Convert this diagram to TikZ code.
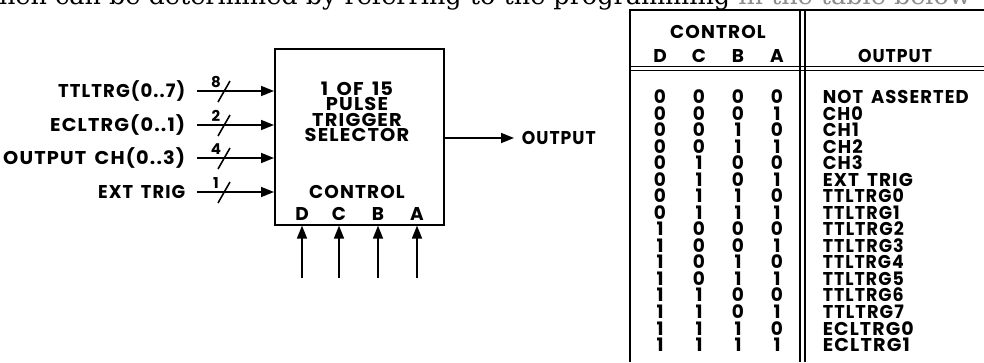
\documentclass[tikz,border=0pt]{standalone}
\usepackage{fontspec}
\usepackage{graphicx}
\setmainfont{Poppins}[LetterSpace=6]
\newfontfamily\serifx{DejaVu Serif}
\usetikzlibrary{arrows.meta}
\newcommand{\fw}[2]{\resizebox{#1pt}{\height}{#2}}
\begin{document}
\begin{tikzpicture}[x=1pt,y=-1pt,line width=1.6pt,
  txt/.style={font=\fontsize{18.5}{18.5}\selectfont\bfseries,inner sep=0pt,anchor=base},
  num/.style={font=\fontsize{15}{15}\selectfont\bfseries,inner sep=0pt},
  arr/.style={-{Triangle[length=13pt,width=10pt]}},
  rule/.style={line width=1.4pt}]
\useasboundingbox (0,0) rectangle (984,362);
% clipped running text at the top
\node[font=\serifx\fontsize{25.5}{25.5}\selectfont,anchor=base west,inner sep=0pt] (run) at (-12,4)
  {then can be determined by referring to the programming \textcolor{black!45}{in the table below}};
% block
\node[draw,minimum width=169pt,minimum height=176pt,anchor=north west,inner sep=0pt] (box) at (274,48) {};
\node[txt] (t1) at (357,95.5) {\scalebox{1.05}[1]{1\hspace{8pt}OF\hspace{8pt}15}};
\node[txt] (t2) at (357,110.5) {\scalebox{1.05}[1]{PULSE}};
\node[txt] (t3) at (357,126) {\scalebox{1.05}[1]{TRIGGER}};
\node[txt] (t4) at (357,141.5) {\scalebox{1.05}[1]{SELECTOR}};
\node[txt] (t5) at (357,198.5) {CONTROL};
% inputs
\foreach \n/\lab/\lw/\w/\yy in {1/TTLTRG(0..7)/127/8/91,2/ECLTRG(0..1)/135/2/125,3/OUTPUT\hspace{8pt}CH(0..3)/182/4/158,4/EXT\hspace{8pt}TRIG/87/1/192}{
  \coordinate (s\n) at (197,\yy);
  \node[txt,anchor=base east] (l\n) at (186,\yy+6.8) {\fw{\lw}{\lab}};
  \draw[arr] (s\n) -- (s\n -| box.west);
  \draw ([shift={(21,11)}]s\n) -- ([shift={(33,-10)}]s\n);
  \node[num] (w\n) at ([shift={(19,-9)}]s\n) {\w};
}
% control inputs
\foreach \n/\x in {D/302,C/339,B/378,A/417}{
  \node[txt] (c\n) at (\x,220.5) {\n};
  \coordinate (b\n) at (\x,278);
  \draw[arr] (b\n) -- (b\n |- box.south);
}
% output
\coordinate (oe) at (514,138);
\draw[arr] (oe -| box.east) -- (oe);
\node[txt,anchor=base west] (out) at (521,144.6) {\fw{74}{OUTPUT}};
% table frame
\coordinate (tl) at (630,10);
\coordinate (tr) at (984,10);
\coordinate (bl) at (630,362);
\draw[rule] (bl) -- (tl) -- (tr);
\draw[rule] (800,10) -- (800,362);
\draw[rule] (805,10) -- (805,362);
\draw[rule] (630,66.5) -- (984,66.5);
\draw[rule] (630,70.5) -- (984,70.5);
% table header
\node[txt] (hc) at (718,38.5) {CONTROL};
\node[txt] (hd) at (660,62.5) {D};
\node[txt] (hcc) at (699,62.5) {C};
\node[txt] (hb) at (738,62.5) {B};
\node[txt] (ha) at (777,62.5) {A};
\node[txt] (ho) at (895,62.5) {\fw{74}{OUTPUT}};
% table body
\foreach \d/\c/\b/\a/\o/\ow [count=\i from 0] in {
 0/0/0/0/NOT\hspace{8pt}ASSERTED/146, 0/0/0/1/CH0/40, 0/0/1/0/CH1/36, 0/0/1/1/CH2/40,
 0/1/0/0/CH3/40, 0/1/0/1/EXT\hspace{8pt}TRIG/90, 0/1/1/0/TTLTRG0/81, 0/1/1/1/TTLTRG1/77,
 1/0/0/0/TTLTRG2/81, 1/0/0/1/TTLTRG3/81, 1/0/1/0/TTLTRG4/81, 1/0/1/1/TTLTRG5/81,
 1/1/0/0/TTLTRG6/81, 1/1/0/1/TTLTRG7/81, 1/1/1/0/ECLTRG0/91, 1/1/1/1/ECLTRG1/87}{
  \pgfmathsetmacro\yy{103.6+16.53*\i}
  \node[txt] (rd\i) at (660,\yy) {\d};
  \node[txt] (rc\i) at (699,\yy) {\c};
  \node[txt] (rb\i) at (738,\yy) {\b};
  \node[txt] (ra\i) at (777,\yy) {\a};
  \node[txt,anchor=base west] (ro\i) at (822,\yy) {\fw{\ow}{\o}};
}
\end{tikzpicture}
\end{document}
